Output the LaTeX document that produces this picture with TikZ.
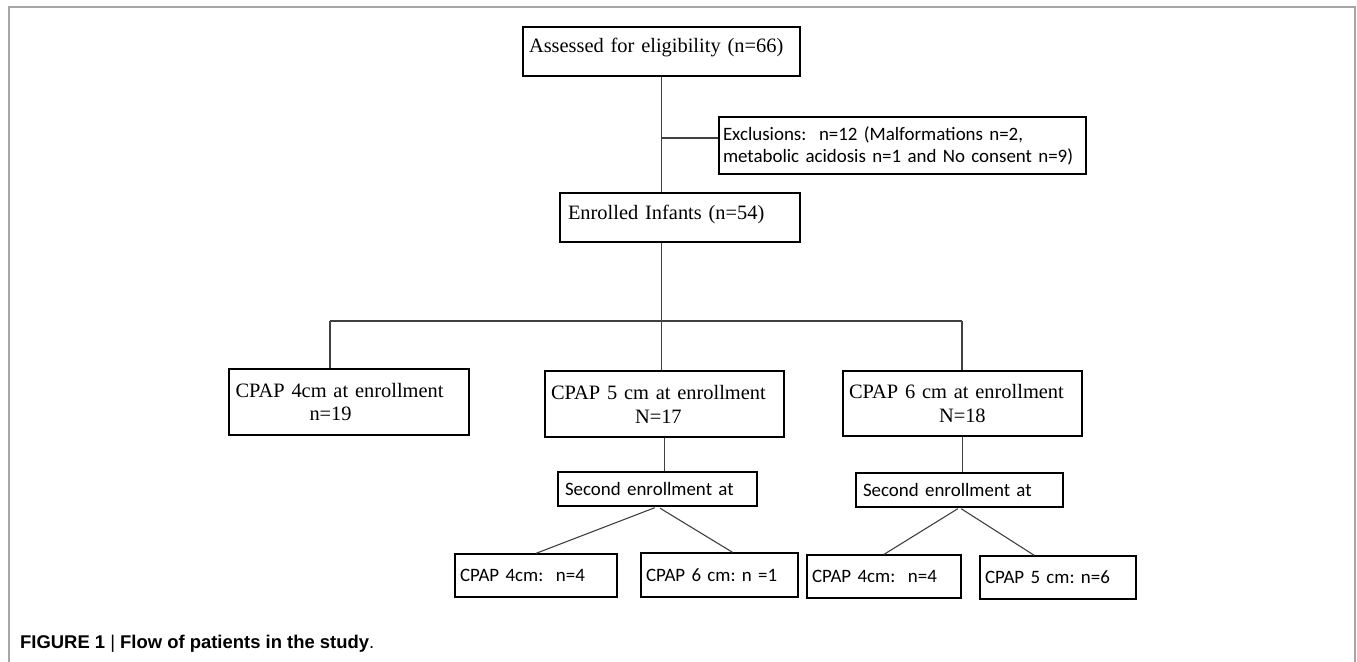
\documentclass[tikz,border=0pt]{standalone}
\usepackage{fontspec}
\setmainfont{Liberation Serif}
\newfontfamily\calib{Carlito}
\newfontfamily\capsans{Liberation Sans}
\frenchspacing

\tikzset{
  tbox/.style={draw, line width=1.3bp, font=\fontsize{20.5}{24}\selectfont, inner xsep=6bp, inner ysep=0bp, align=left},
  cbox/.style={draw, line width=1.3bp, font=\calib\fontsize{19}{22}\selectfont, inner xsep=6bp, inner ysep=0bp, align=left},
  link/.style={line width=1.1bp, draw=black!75}
}

\begin{document}
\begin{tikzpicture}[x=1bp, y=-1bp]
  \useasboundingbox (0,0) rectangle (1357,662);
  \draw[gray!70, line width=1.5bp] (9,662) -- (9,7) -- (1355,7) -- (1355,662);

  \node[tbox, text width=265bp, minimum height=49bp, text height=15bp, text depth=12bp] (assess) at (661.5,51.5) {Assessed for eligibility (n=66)};
  \node[cbox, text width=359bp, inner xsep=4bp, minimum height=57bp] (excl) at (902.5,145.5) {Exclusions:\ \ n=12 (Malformations n=2,\\metabolic acidosis n=1 and No consent n=9)};
  \node[tbox, text width=224bp, inner xsep=8bp, minimum height=49bp, text height=15bp, text depth=12bp] (enrol) at (680,217.5) {Enrolled Infants (n=54)};

  \node[tbox, text width=227bp, inner xsep=6.5bp, minimum height=66bp] (c4) at (349,402) {CPAP 4cm at enrollment\\\hspace*{74bp}n=19};
  \node[tbox, text width=227bp, minimum height=66bp] (c5) at (664.5,404) {CPAP 5 cm at enrollment\\\hspace*{84bp}N=17};
  \node[tbox, text width=227bp, minimum height=65bp] (c6) at (962.5,403.5) {CPAP 6 cm at enrollment\\\hspace*{90bp}N=18};

  \node[cbox, text width=185bp, inner xsep=7bp, minimum height=34bp] (se1) at (657.5,489) {Second enrollment at};
  \node[cbox, text width=193bp, inner xsep=7bp, minimum height=34bp] (se2) at (959.5,490) {Second enrollment at};

  \node[cbox, text width=152bp, inner xsep=5bp, minimum height=43bp] (b1) at (536,575.5) {CPAP 4cm:\ \ n=4};
  \node[cbox, text width=147bp, inner xsep=5bp, minimum height=44bp] (b2) at (719.5,575) {CPAP 6 cm: n =1};
  \node[cbox, text width=144bp, inner xsep=5bp, minimum height=43bp] (b3) at (884,576.5) {CPAP 4cm:\ \ n=4};
  \node[cbox, text width=146bp, inner xsep=5bp, minimum height=43bp] (b4) at (1058,577.5) {CPAP 5 cm: n=6};

  \coordinate (exjoin) at (661.5,138);
  \coordinate (split) at (661.5,321);
  \coordinate (barL) at (330,321);
  \coordinate (barR) at (962,321);

  \draw[link] (assess.south) -- (assess.south |- enrol.north);
  \draw[link] (exjoin) -- (exjoin -| excl.west);
  \draw[link] (split |- enrol.south) -- (split);
  \draw[link] (barL) -- (barR);
  \draw[link] (barL) -- (barL |- c4.north);
  \draw[link] (split) -- (split |- c5.north);
  \draw[link] (barR) -- (barR |- c6.north);
  \draw[link] (c5.south) -- (c5.south |- se1.north);
  \draw[link] (c6.south) -- (c6.south |- se2.north);
  \draw[link, shorten <=3bp] (se1.south) -- (b1.north);
  \draw[link, shorten <=3bp] (se1.south) -- (b2.60);
  \draw[link, shorten <=2bp] (se2.south) -- (b3.north);
  \draw[link, shorten <=2bp] (se2.south) -- (b4.137);

  \node[anchor=base west, inner sep=0bp, font=\capsans\bfseries\fontsize{18.5}{21}\selectfont] (caption) at (20,648) {FIGURE 1 {\mdseries|} Flow of patients in the study\textmd{.}};
\end{tikzpicture}
\end{document}
